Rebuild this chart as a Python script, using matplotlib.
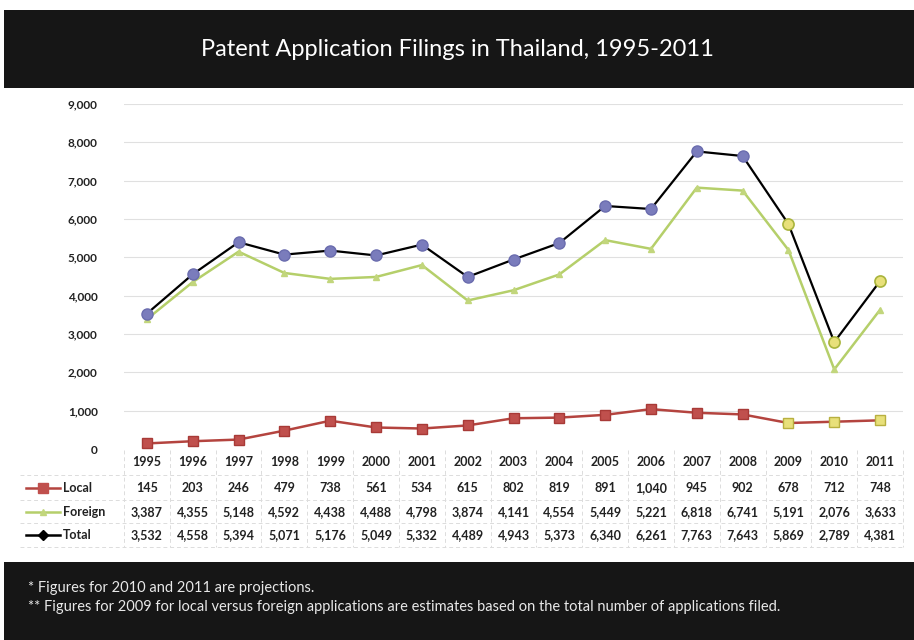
import matplotlib
matplotlib.use("Agg")
import matplotlib.pyplot as plt
from matplotlib.patches import Rectangle
from matplotlib.lines import Line2D
import matplotlib.transforms as mtransforms

years = ["1995", "1996", "1997", "1998", "1999", "2000", "2001", "2002", "2003",
         "2004", "2005", "2006", "2007", "2008", "2009", "2010", "2011"]
local = [145, 203, 246, 479, 738, 561, 534, 615, 802, 819, 891, 1040, 945, 902, 678, 712, 748]
foreign = [3387, 4355, 5148, 4592, 4438, 4488, 4798, 3874, 4141, 4554, 5449, 5221, 6818, 6741, 5191, 2076, 3633]
total = [3532, 4558, 5394, 5071, 5176, 5049, 5332, 4489, 4943, 5373, 6340, 6261, 7763, 7643, 5869, 2789, 4381]
yticks = [0, 1000, 2000, 3000, 4000, 5000, 6000, 7000, 8000, 9000]
title = "Patent Application Filings in Thailand, 1995-2011"
notes = ["* Figures for 2010 and 2011 are projections.",
         "** Figures for 2009 for local versus foreign applications are estimates based on the total number of applications filed."]
n_actual = 14  # first 14 years drawn with normal markers; last 3 highlighted

plt.rcParams['font.family'] = ['Lato', 'DejaVu Sans']

W, H = 914, 640
fig = plt.figure(figsize=(W / 100, H / 100), dpi=100)
fig.patch.set_facecolor("white")

# banners
fig.add_artist(Rectangle((4 / W, 1 - 88 / H), (W - 4) / W, 78 / H, transform=fig.transFigure,
                         facecolor="#161616", edgecolor="none", zorder=0))
fig.add_artist(Rectangle((4 / W, 0), (W - 4) / W, 78 / H, transform=fig.transFigure,
                         facecolor="#161616", edgecolor="none", zorder=0))
fig.text(0.5, 1 - 50 / H, title, color="white", fontsize=17, ha="center", va="center",
         family=["Lato", "DejaVu Sans"])
fig.text(28 / W, 1 - 588 / H, notes[0], color="#e8e8e8", fontsize=10.5, ha="left", va="center",
         family=["Lato", "DejaVu Sans"])
fig.text(28 / W, 1 - 607 / H, notes[1], color="#e8e8e8", fontsize=10.5, ha="left", va="center",
         family=["Lato", "DejaVu Sans"])

left_px, right_px = 124, 903
top_px, bot_px = 104, 449
ax = fig.add_axes([left_px / W, 1 - bot_px / H, (right_px - left_px) / W, (bot_px - top_px) / H])
x = list(range(len(years)))
ax.set_xlim(-0.5, len(years) - 0.5)
ax.set_ylim(0, 9000)
for s in ax.spines.values():
    s.set_visible(False)
ax.set_xticks([])
ax.set_yticks(yticks)
ax.set_yticklabels([f"{v:,}" for v in yticks], fontsize=8.5, fontweight="bold", color="#222222")
ax.tick_params(axis="y", length=0, pad=19)
for v in yticks[1:]:
    ax.axhline(v, color="#e0e0e0", lw=0.8, zorder=0)

red_line = "#b4443f"
red_mark = "#c0504d"
green = "#b5cf6a"
blue_mark = "#7a7cbc"
yellow = "#e8e07a"

# Foreign
ax.plot(x, foreign, color=green, lw=1.8, zorder=2, clip_on=False)
ax.plot(x, foreign, ls="none", marker="^", ms=5, color="#c2d67c", zorder=3, clip_on=False)
# Total
ax.plot(x, total, color="black", lw=1.6, zorder=4, clip_on=False)
ax.plot(x[:n_actual], total[:n_actual], ls="none", marker="o", ms=8, mfc=blue_mark, mec="#6a6cae",
        zorder=5, clip_on=False)
ax.plot(x[n_actual:], total[n_actual:], ls="none", marker="o", ms=8, mfc=yellow, mec="#a9b43c",
        mew=1.2, zorder=5, clip_on=False)
# Local
ax.plot(x, local, color=red_line, lw=1.8, zorder=4, clip_on=False)
ax.plot(x[:n_actual], local[:n_actual], ls="none", marker="s", ms=7, mfc=red_mark, mec="#a83a37",
        zorder=5, clip_on=False)
ax.plot(x[n_actual:], local[n_actual:], ls="none", marker="s", ms=7, mfc=yellow, mec="#b8b040",
        zorder=5, clip_on=False)

# data table
trans = mtransforms.blended_transform_factory(ax.transData, fig.transFigure)
row_y = [1 - 462 / H, 1 - 488 / H, 1 - 512 / H, 1 - 535 / H]
tfs = 9
for i, yr in enumerate(years):
    ax.text(i, row_y[0], yr, transform=trans, ha="center", va="center", fontsize=tfs,
            fontweight="bold", color="#222222")
    ax.text(i, row_y[1], f"{local[i]:,}", transform=trans, ha="center", va="center", fontsize=tfs,
            fontweight="bold", color="#222222")
    ax.text(i, row_y[2], f"{foreign[i]:,}", transform=trans, ha="center", va="center", fontsize=tfs,
            fontweight="bold", color="#222222")
    ax.text(i, row_y[3], f"{total[i]:,}", transform=trans, ha="center", va="center", fontsize=tfs,
            fontweight="bold", color="#222222")

# table grid lines (faint, dashed as in the scanned original)
tb_top, tb_bot = 1 - 450 / H, 1 - 547 / H
for i in range(len(years) + 1):
    ax.add_line(Line2D([i - 0.5, i - 0.5], [tb_top, tb_bot], transform=trans, color="#dcdcdc",
                       lw=0.7, ls=(0, (4, 3)), clip_on=False))
for yy in [1 - 475 / H, 1 - 500 / H, 1 - 523 / H, tb_bot]:
    fig.add_artist(Line2D([20 / W, right_px / W], [yy, yy], transform=fig.transFigure,
                          color="#dcdcdc", lw=0.7, ls=(0, (4, 3))))

# legend keys in table
kx0, kx1, lx = 26 / W, 60 / W, 63 / W
labels = ["Local", "Foreign", "Total"]
styles = [(red_line, "s", red_mark, 7), (green, "^", "#c2d67c", 5), ("black", "D", "black", 5)]
for (c, m, mc, ms), lab, yy in zip(styles, labels, row_y[1:]):
    fig.add_artist(Line2D([kx0, kx1], [yy, yy], transform=fig.transFigure, color=c, lw=1.8))
    fig.add_artist(Line2D([(kx0 + kx1) / 2], [yy], transform=fig.transFigure, ls="none",
                          marker=m, ms=ms, mfc=mc, mec=mc))
    fig.text(lx, yy, lab, ha="left", va="center", fontsize=tfs, fontweight="bold", color="#222222")

fig.savefig("out.png", dpi=100, facecolor="white")
